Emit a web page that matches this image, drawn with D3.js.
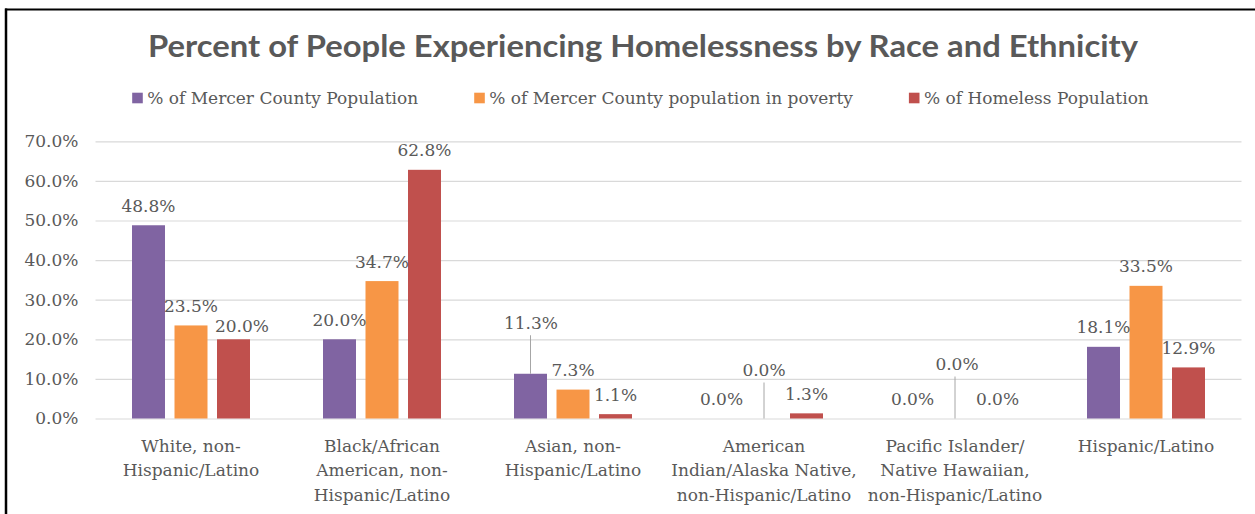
<!DOCTYPE html>
<html>
<head>
<meta charset="utf-8">
<script src="https://cdn.jsdelivr.net/npm/d3@7"></script>
<style>
  html, body { margin: 0; padding: 0; background: #fff; }
  svg { display: block; }
</style>
</head>
<body>
<svg id="chart" width="1255" height="514"></svg>
<script>
// Chart data
const title = "Percent of People Experiencing Homelessness by Race and Ethnicity";
const categories = [
  "White, non-\nHispanic/Latino",
  "Black/African\nAmerican, non-\nHispanic/Latino",
  "Asian, non-\nHispanic/Latino",
  "American\nIndian/Alaska Native,\nnon-Hispanic/Latino",
  "Pacific Islander/\nNative Hawaiian,\nnon-Hispanic/Latino",
  "Hispanic/Latino"
];
const seriesNames = [
  "% of Mercer County Population",
  "% of Mercer County population in poverty",
  "% of Homeless Population"
];
const countyPop   = [0.488, 0.200, 0.113, 0.000, 0.000, 0.181];
const povertyPop  = [0.235, 0.347, 0.073, 0.000, 0.000, 0.335];
const homelessPop = [0.200, 0.628, 0.011, 0.013, 0.000, 0.129];
const yTicks = [0, 0.1, 0.2, 0.3, 0.4, 0.5, 0.6, 0.7];

// Layout and styling
const colors = ["#8064A2", "#F79646", "#C0504D"];
const textColor = "#595959";
const serif = "'DejaVu Serif', 'Liberation Serif', serif";
const plot = { left: 95.5, right: 1241.5, top: 141.3, bottom: 418.5 };

// Hand-placed data labels (dx, dy in px from the default spot); leader = connector line
const labelNudges = {
  "0-2": { dx: 8.5, dy: 6 },
  "2-0": { dx: 0.5, dy: -31, leader: true },
  "3-1": { dx: 0, dy: -28.5, leader: true },
  "4-1": { dx: 2, dy: -34.5, leader: true }
};

const svg = d3.select("#chart");
svg.append("rect").attr("width", 1255).attr("height", 514).attr("fill", "#fff");

// Chart frame
svg.append("line").attr("x1", 5).attr("x2", 1255).attr("y1", 9.5).attr("y2", 9.5)
  .attr("stroke", "#000").attr("stroke-width", 2);
svg.append("line").attr("x1", 6).attr("x2", 6).attr("y1", 8.5).attr("y2", 514)
  .attr("stroke", "#000").attr("stroke-width", 2.5);

const seriesValues = [countyPop, povertyPop, homelessPop];
const rows = categories.map((c, i) => ({ cat: c, idx: i, values: seriesValues.map(s => s[i]) }));

const x0 = d3.scaleBand().domain(d3.range(categories.length)).range([plot.left, plot.right]);
const bw = x0.bandwidth();
const inner = 127.5;
const x1 = d3.scaleBand().domain(d3.range(seriesNames.length))
  .range([(bw - inner) / 2, (bw + inner) / 2]).paddingInner(0.2235).paddingOuter(0.11175);
const y = d3.scaleLinear().domain([0, 0.7]).range([plot.bottom, plot.top]);

// Title
svg.append("text")
  .attr("x", 643).attr("y", 57)
  .attr("text-anchor", "middle")
  .attr("font-family", "Lato, 'Open Sans', sans-serif")
  .attr("font-weight", 700)
  .attr("font-size", 30)
  .attr("textLength", 990)
  .attr("lengthAdjust", "spacingAndGlyphs")
  .attr("fill", textColor)
  .text(title);

// Legend, laid out from measured text widths and centred
const legend = svg.append("g");
const items = seriesNames.map((name, i) => {
  const g = legend.append("g");
  g.append("rect").attr("width", 10.6).attr("height", 10.6).attr("y", -5.3).attr("fill", colors[i]);
  const t = g.append("text").attr("x", 15).attr("dy", "0.35em")
    .attr("font-family", serif).attr("font-size", 17).attr("fill", textColor).text(name);
  return { g, w: 15 + t.node().getComputedTextLength() };
});
const legendGap = 56;
const legendTotal = d3.sum(items, d => d.w) + legendGap * (items.length - 1);
let lx = 640.5 - legendTotal / 2;
items.forEach(it => {
  it.g.attr("transform", `translate(${lx},98)`);
  lx += it.w + legendGap;
});

// Gridlines and y-axis labels
const yAxis = d3.axisLeft(y).tickValues(yTicks).tickFormat(d3.format(".1%"))
  .tickSize(-(plot.right - plot.left)).tickPadding(17);
const ya = svg.append("g").attr("transform", `translate(${plot.left},0)`).call(yAxis);
ya.select(".domain").remove();
ya.selectAll(".tick line").attr("stroke", "#d9d9d9").attr("stroke-width", 1.2);
ya.selectAll(".tick text").attr("font-family", serif).attr("font-size", 17).attr("fill", textColor);

// Bars
const groups = svg.append("g").selectAll("g").data(rows).join("g")
  .attr("transform", d => `translate(${x0(d.idx)},0)`);
groups.selectAll("rect").data(d => d.values.map((v, s) => ({ v, s, c: d.idx })))
  .join("rect")
  .attr("x", d => x1(d.s))
  .attr("width", x1.bandwidth())
  .attr("y", d => y(d.v))
  .attr("height", d => y(0) - y(d.v))
  .attr("fill", d => colors[d.s]);

// Data labels (with leader lines where moved)
const fmt = d3.format(".1%");
const labelData = rows.flatMap(r => r.values.map((v, s) => {
  const n = labelNudges[`${r.idx}-${s}`] || { dx: 0, dy: 0 };
  const cx = x0(r.idx) + x1(s) + x1.bandwidth() / 2;
  const top = y(v);
  return { v, cx, top, lx: cx + n.dx, ly: top - 19.5 + n.dy, leader: n.leader };
}));
svg.append("g").selectAll("line").data(labelData.filter(d => d.leader)).join("line")
  .attr("x1", d => d.cx).attr("x2", d => d.cx)
  .attr("y1", d => d.top).attr("y2", d => d.ly + 12)
  .attr("stroke", "#a6a6a6").attr("stroke-width", 1);
svg.append("g").selectAll("text").data(labelData).join("text")
  .attr("x", d => d.lx).attr("y", d => d.ly).attr("dy", "0.35em")
  .attr("text-anchor", "middle")
  .attr("font-family", serif).attr("font-size", 17).attr("fill", textColor)
  .text(d => fmt(d.v));

// Category labels
const catText = svg.append("g").selectAll("text").data(rows).join("text")
  .attr("text-anchor", "middle")
  .attr("font-family", serif).attr("font-size", 17).attr("fill", textColor);
catText.selectAll("tspan").data(d => d.cat.split("\n").map(line => ({ line, cx: x0(d.idx) + bw / 2 })))
  .join("tspan")
  .attr("x", d => d.cx)
  .attr("y", (d, i) => 451.5 + i * 24.8)
  .text(d => d.line);
</script>
</body>
</html>
